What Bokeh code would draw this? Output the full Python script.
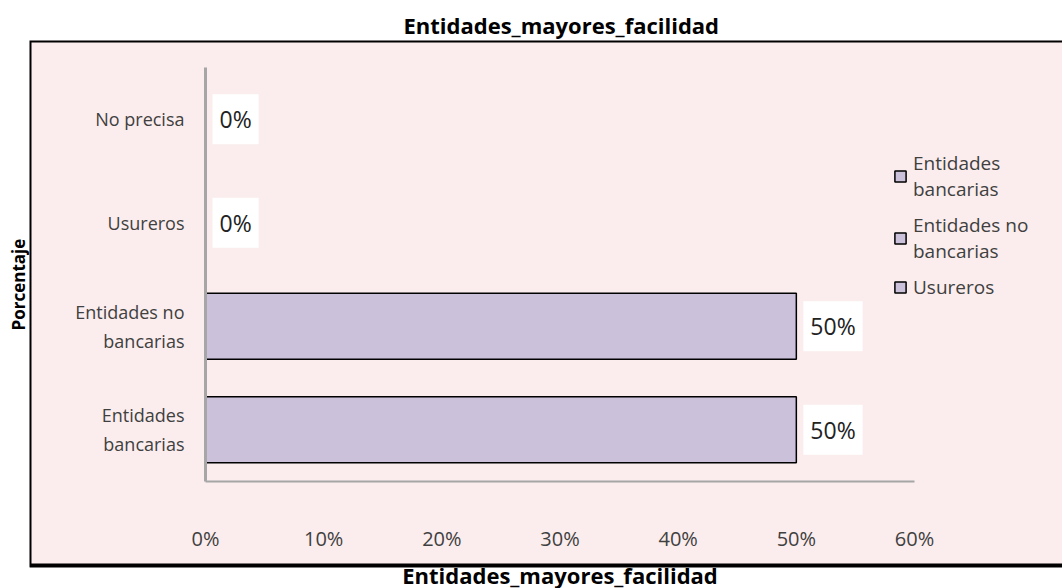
from bokeh.plotting import figure
from bokeh.models import (ColumnDataSource, Range1d, FixedTicker, PrintfTickFormatter,
                          Legend, LegendItem, BoxAnnotation, Title)
from bokeh.core.properties import value
from bokeh.embed import file_html
from bokeh.resources import INLINE

# ---- data ----
categories = ["Entidades bancarias", "Entidades no bancarias", "Usureros", "No precisa"]
wrapped = ["Entidades\nbancarias", "Entidades no\nbancarias", "Usureros", "No precisa"]
values = [50, 50, 0, 0]
labels = ["50%", "50%", "0%", "0%"]
ticks = [0, 10, 20, 30, 40, 50, 60]
legend_names = ["Entidades\nbancarias", "Entidades no\nbancarias", "Usureros"]
title_text = "Entidades_mayores_facilidad"
y_title = "Porcentaje"

FONT = "Open Sans"
TXT = "#404040"

# ---- layout (pixels) ----
W, H = 1062, 588
FL, FT = 29, 40                    # frame left / top (canvas px)
FB, FR = H, W                      # frame bottom / right
BOX_B = 565                        # bottom edge of the pink panel
AX_X0, AX_X1 = 205, 914            # x of 0% and 60%
AX_YT, AX_YB = 67, 481             # top / bottom of category axis

n = len(categories)
xmax = ticks[-1]
pxx = (AX_X1 - AX_X0) / xmax
pxy = (AX_YB - AX_YT) / n
x0 = -(AX_X0 - FL) / pxx
x1 = (FR - AX_X0) / pxx
y0 = -(FB - AX_YB) / pxy
y1 = n + (AX_YT - FT) / pxy
yb = -(BOX_B - AX_YB) / pxy

ypos = [i + 0.5 for i in range(n)]
src = ColumnDataSource(dict(y=ypos, val=values, lab=labels))

p = figure(width=W, height=H, output_backend="svg", toolbar_location=None,
           x_range=Range1d(x0, x1), y_range=Range1d(y0, y1),
           min_border_left=FL, min_border_right=0, min_border_top=FT,
           min_border_bottom=0)
p.background_fill_color = "white"
p.border_fill_color = "white"
p.outline_line_color = None
p.grid.visible = False

# pink chart-area panel with black frame (right side falls outside the view)
p.add_layout(BoxAnnotation(left=x0, right=x1 + 10, bottom=yb, top=y1,
                           fill_color="#FBEDED", fill_alpha=1,
                           line_color="black", line_alpha=1,
                           line_width=4, level="underlay"))

r = p.hbar(y="y", right="val", height=0.64, source=src,
           fill_color="#CCC1DA", line_color="black", line_width=1.5)

p.text(x="val", y="y", text="lab", source=src, x_offset=7,
       text_font=value(FONT), text_font_size="23px", text_color="#222222",
       text_baseline="middle", text_align="left",
       background_fill_color="white", padding=(7, 9))

p.title = Title(text=title_text, align="left", offset=374, standoff=2,
                text_font=FONT, text_font_size="22px", text_font_style="bold",
                text_color="black")
p.add_layout(Title(text=y_title, align="left", offset=236 + (FB - 566), standoff=0,
                   text_font=FONT, text_font_size="17px", text_font_style="bold",
                   text_color="black"), "left")

xa = p.xaxis[0]
xa.fixed_location = 0
xa.bounds = (0, xmax)
xa.ticker = FixedTicker(ticks=ticks)
xa.formatter = PrintfTickFormatter(format="%d%%")
xa.axis_line_color = "#A6A6A6"
xa.axis_line_width = 2
xa.major_tick_line_color = None
xa.minor_tick_line_color = None
xa.major_label_standoff = 37
xa.major_label_text_font = FONT
xa.major_label_text_font_size = "20px"
xa.major_label_text_color = TXT
xa.axis_label = title_text
xa.axis_label_text_font = FONT
xa.axis_label_text_font_size = "22px"
xa.axis_label_text_font_style = "bold"
xa.axis_label_text_color = "black"
xa.axis_label_standoff = 5

ya = p.yaxis[0]
ya.fixed_location = 0
ya.bounds = (0, n)
ya.ticker = FixedTicker(ticks=ypos)
ya.major_label_overrides = {yv: w for yv, w in zip(ypos, wrapped)}
ya.axis_line_color = "#A6A6A6"
ya.axis_line_width = 3
ya.major_tick_line_color = None
ya.minor_tick_line_color = None
ya.major_label_standoff = 15
ya.major_label_text_font = FONT
ya.major_label_text_font_size = "18px"
ya.major_label_text_color = TXT
ya.major_label_text_align = "center"

items = [LegendItem(label=legend_names[i], renderers=[r], index=i) for i in range(3)]
leg = Legend(items=items, location=(864, FB - 300), padding=0, margin=0,
             border_line_color=None, background_fill_alpha=0,
             glyph_width=14, glyph_height=14, label_standoff=6, spacing=10,
             label_text_font=FONT, label_text_font_size="19px", label_text_color=TXT,
             label_text_line_height=1.8)
p.add_layout(leg)

open("out.html", "w").write(file_html(p, INLINE))
